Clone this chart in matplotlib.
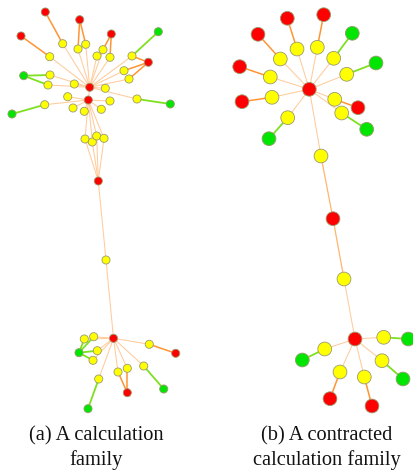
import matplotlib.pyplot as plt

# Panel (a): a calculation family  (positions in picture pixels)
a_x = [89.7, 88.3, 45.3, 79.7, 111.3, 21.0, 148.3, 98.3, 158.3, 23.7, 12.0, 170.3,
       62.7, 78.0, 85.7, 103.0, 97.0, 110.0, 132.0, 49.7, 124.0, 129.0, 50.0, 48.0,
       74.3, 105.3, 67.7, 110.0, 137.0, 44.7, 73.0, 84.3, 101.3, 85.0, 92.3, 96.7,
       104.0, 106.0,
       113.5, 84.3, 93.7, 79.0, 97.3, 93.0, 149.3, 175.7, 143.7, 163.7, 118.0, 127.3,
       127.3, 98.7, 88.0]
a_y = [87.3, 100.0, 12.0, 19.7, 34.0, 36.0, 62.3, 181.0, 31.7, 75.7, 114.0, 104.0,
       43.7, 49.0, 44.3, 49.7, 56.0, 57.3, 56.0, 56.7, 70.7, 79.0, 75.0, 85.0,
       84.0, 88.3, 96.7, 101.0, 99.0, 104.7, 108.0, 111.3, 109.3, 139.0, 142.0, 136.0,
       138.3, 260.0,
       338.3, 339.0, 336.7, 352.7, 350.7, 360.3, 344.3, 353.3, 366.0, 389.0, 372.0, 368.3,
       392.7, 379.0, 408.7]
a_kind = list("rrrrrrrrgggg") + ["y"] * 26 + list("ryygyyyrygyyryg")
a_edges = ([(0, i, "hub") for i in list(range(12, 26)) + [28]]
           + [(1, i, "hub") for i in [26, 27, 29, 30, 31, 32, 33, 34, 35, 36]]
           + [(0, 1, "hub")]
           + [(7, i, "hub") for i in [33, 34, 35, 36]]
           + [(7, 37, "hub"), (37, 38, "hub")]
           + [(2, 12, "red"), (3, 13, "red"), (3, 14, "red"), (4, 15, "red"),
              (4, 17, "red"), (5, 19, "red"), (6, 18, "red"), (6, 20, "red"),
              (6, 21, "red"), (8, 18, "green"), (9, 22, "green"), (9, 23, "green"),
              (10, 29, "green"), (11, 28, "green")]
           + [(38, i, "hub") for i in [39, 40, 42, 43, 44, 46, 48, 49, 51]]
           + [(41, i, "green") for i in [39, 40, 42, 43]]
           + [(44, 45, "red"), (46, 47, "green"), (48, 50, "red"), (49, 50, "red"),
              (51, 52, "green")])

# Panel (b): a contracted calculation family
b_x = [309.3, 297.0, 317.3, 280.3, 333.7, 270.3, 346.7, 272.0, 334.7, 341.7, 287.7,
       287.3, 323.7, 258.0, 352.3, 239.7, 376.0, 242.0, 358.0, 366.7, 269.0,
       321.0, 333.0, 344.0, 355.0,
       383.7, 324.7, 382.0, 340.0, 364.3, 408.3, 302.3, 403.0, 330.0, 372.0]
b_y = [89.3, 49.0, 47.3, 59.0, 58.3, 77.0, 74.3, 97.3, 99.3, 113.0, 117.7,
       18.3, 14.7, 34.3, 33.3, 66.7, 63.0, 101.7, 107.7, 129.3, 138.7,
       156.0, 218.7, 279.0, 339.0,
       337.3, 349.0, 360.7, 372.0, 377.0, 339.0, 360.0, 379.0, 398.7, 406.0]
b_kind = (["r"] + ["y"] * 10 + list("rrrgrgrrgg") + list("yryr")
          + ["y"] * 5 + list("gggrr"))
b_edges = ([(0, i, "hub") for i in range(1, 11)]
           + [(i, i + 10, "green" if b_kind[i + 10] == "g" else "red") for i in range(1, 11)]
           + [(0, 21, "hub"), (21, 22, "mid"), (22, 23, "mid"), (23, 24, "hub")]
           + [(24, i, "hub") for i in range(25, 30)]
           + [(i, i + 5, "green" if b_kind[i + 5] == "g" else "red") for i in range(25, 30)])

node_colors = {"r": "#ff0000", "y": "#ffff00", "g": "#00e600"}
edge_style = {"hub": ("#ffcb9c", 0.75), "mid": ("#ffb470", 0.9),
              "red": ("#ff9433", 1.1), "green": ("#7fe020", 1.3)}

fig = plt.figure(figsize=(4.14, 4.71), dpi=100)
ax = fig.add_axes([0, 0, 1, 1])
ax.set_xlim(0, 414)
ax.set_ylim(471, 0)
ax.axis("off")


def draw(xs, ys, kinds, edges, size):
    for i, j, k in edges:
        c, lw = edge_style[k]
        ax.plot([xs[i], xs[j]], [ys[i], ys[j]], color=c, lw=lw, zorder=1,
                solid_capstyle="round")
    ax.scatter(xs, ys, s=size, c=[node_colors[k] for k in kinds],
               edgecolors="#9a9a70", linewidths=0.6, zorder=2)


draw(a_x, a_y, a_kind, a_edges, 34)
draw(b_x, b_y, b_kind, b_edges, 98)

cap = dict(ha="center", va="center", fontsize=14.7, family="Liberation Serif",
           color="#111111")
ax.text(96.5, 436, "(a) A calculation", **cap)
ax.text(96.5, 460, "family", **cap)
ax.text(327, 436, "(b) A contracted", **cap)
ax.text(327, 460, "calculation family", **cap)

fig.savefig("out.png", dpi=100)
